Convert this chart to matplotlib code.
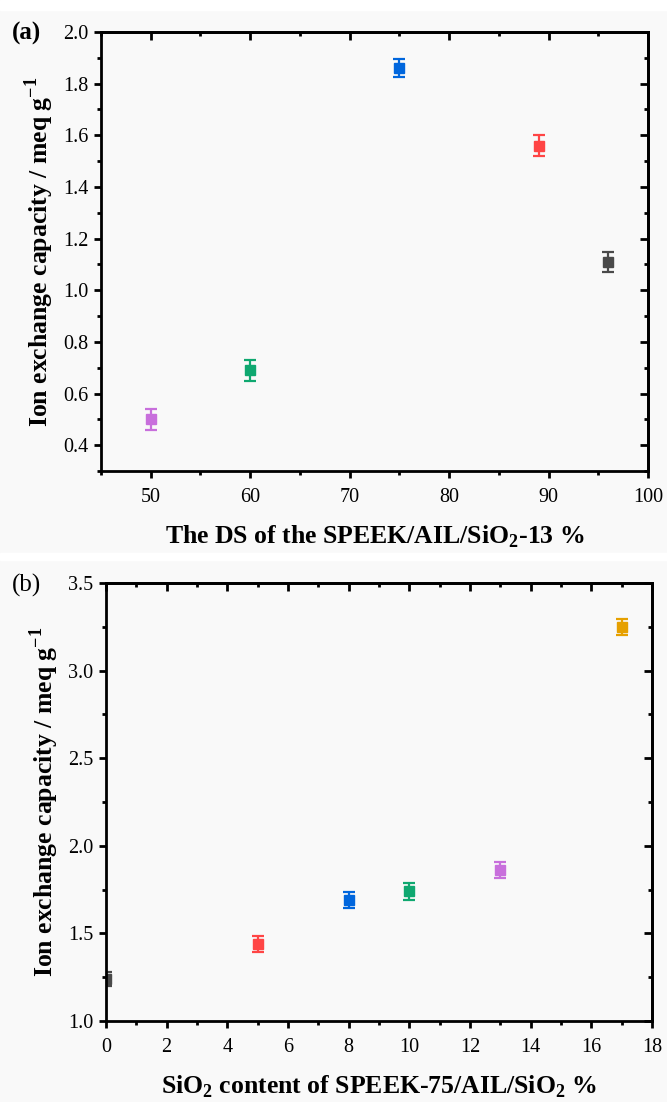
import matplotlib
matplotlib.use('Agg')
import matplotlib.pyplot as plt
import matplotlib.ticker as mticker
from matplotlib.patches import Rectangle

plt.rcParams['font.family'] = ['Liberation Serif', 'DejaVu Serif']
plt.rcParams['mathtext.fontset'] = 'custom'
plt.rcParams['mathtext.rm'] = 'Liberation Serif'
plt.rcParams['mathtext.bf'] = 'Liberation Serif:bold'

# panel (a): degree of sulfonation
ds_x = [50, 60, 75, 89, 96]
ds_iec = [0.50, 0.69, 1.86, 1.56, 1.11]
ds_err = [0.04, 0.04, 0.035, 0.04, 0.04]
ds_colors = ['#C86FDC', '#0FA870', '#0066DD', '#FF4545', '#4A4A4A']

# panel (b): SiO2 content
si_x = [0, 5, 8, 10, 13, 17]
si_iec = [1.24, 1.44, 1.69, 1.74, 1.86, 3.25]
si_err = [0.04, 0.045, 0.045, 0.05, 0.045, 0.045]
si_colors = ['#4A4A4A', '#FF4545', '#0066DD', '#0FA870', '#C86FDC', '#E6A000']

W, H = 667, 1102
LW = 2.0
fig = plt.figure(figsize=(W / 100, H / 100), dpi=100)
fig.patch.set_facecolor('#f9f9f9')
# white strips at the top and between the panels
fig.add_artist(Rectangle((0, 1 - 10 / H), 1, 10 / H, transform=fig.transFigure, color='white', zorder=-1))
fig.add_artist(Rectangle((0, 1 - 560 / H), 1, 7 / H, transform=fig.transFigure, color='white', zorder=-1))


def make_axes(left, right, top, bottom):
    return fig.add_axes([left / W, 1 - bottom / H, (right - left) / W, (bottom - top) / H])


def style_axes(ax, xmaj, ymaj):
    ax.set_facecolor('#f9f9f9')
    for s in ax.spines.values():
        s.set_linewidth(LW)
    ax.xaxis.set_major_locator(mticker.MultipleLocator(xmaj))
    ax.xaxis.set_minor_locator(mticker.AutoMinorLocator(2))
    ax.yaxis.set_major_locator(mticker.MultipleLocator(ymaj))
    ax.yaxis.set_minor_locator(mticker.AutoMinorLocator(2))
    ax.tick_params(which='major', direction='out', length=5, width=LW, labelsize=14.5)
    ax.tick_params(which='minor', direction='out', length=3, width=LW)
    ax.tick_params(axis='x', which='major', pad=7)
    ax.tick_params(axis='y', which='major', pad=4)
    # mirrored ticks on top/right point inward
    top = ax.secondary_xaxis('top')
    top.xaxis.set_major_locator(mticker.MultipleLocator(xmaj))
    top.xaxis.set_minor_locator(mticker.AutoMinorLocator(2))
    top.tick_params(which='major', direction='in', length=6, width=LW, labeltop=False)
    top.tick_params(which='minor', direction='in', length=3, width=LW)
    top.spines['top'].set_linewidth(LW)
    right = ax.secondary_yaxis('right')
    right.yaxis.set_major_locator(mticker.MultipleLocator(ymaj))
    right.yaxis.set_minor_locator(mticker.AutoMinorLocator(2))
    right.tick_params(which='major', direction='in', length=6, width=LW, labelright=False)
    right.tick_params(which='minor', direction='in', length=3, width=LW)
    right.spines['right'].set_linewidth(LW)


ylab = r'Ion exchange capacity / meq g$^{\mathbf{-1}}$'
err_kw = dict(fmt='s', ms=7, capsize=4, elinewidth=1.6, capthick=1.6)

# (a)
ax1 = make_axes(101, 648, 32, 471)
for x, y, e, c in zip(ds_x, ds_iec, ds_err, ds_colors):
    ax1.errorbar(x, y, yerr=e, color=c, **err_kw)
ax1.set_xlim(45, 100)
ax1.set_ylim(0.3, 2.0)
style_axes(ax1, 10, 0.2)
ax1.yaxis.set_major_formatter(mticker.FormatStrFormatter('%.1f'))
ax1.set_yticks([0.4, 0.6, 0.8, 1.0, 1.2, 1.4, 1.6, 1.8, 2.0])
ax1.set_xlabel(r'The DS of the SPEEK/AIL/SiO$_\mathbf{2}$-13 %', fontsize=18.5, fontweight='bold', labelpad=12)
ax1.set_ylabel(ylab, fontsize=18.5, fontweight='bold', labelpad=5)
fig.text(12 / W, 1 - 33 / H, '(a)', fontsize=18, fontweight='bold', va='center', ha='left')

# (b)
ax2 = make_axes(106, 652, 583, 1021)
for x, y, e, c in zip(si_x, si_iec, si_err, si_colors):
    ax2.errorbar(x, y, yerr=e, color=c, **err_kw)
ax2.set_xlim(0, 18)
ax2.set_ylim(1.0, 3.5)
style_axes(ax2, 2, 0.5)
ax2.yaxis.set_major_formatter(mticker.FormatStrFormatter('%.1f'))
ax2.set_xlabel(r'SiO$_\mathbf{2}$ content of SPEEK-75/AIL/SiO$_\mathbf{2}$ %', fontsize=18.5, fontweight='bold', labelpad=12)
ax2.set_ylabel(ylab, fontsize=18.5, fontweight='bold', labelpad=5)
fig.text(12 / W, 1 - 585 / H, '(b)', fontsize=18, va='center', ha='left')

fig.savefig('out.png', dpi=100)
